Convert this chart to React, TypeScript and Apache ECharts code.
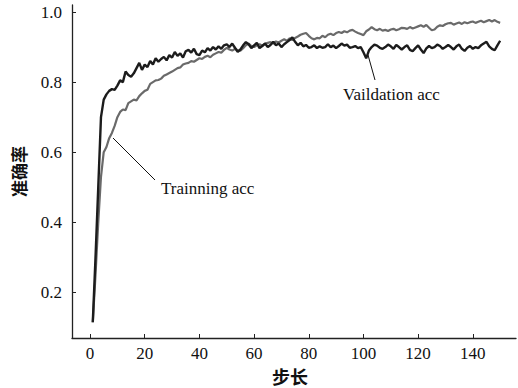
import React, { useEffect, useRef } from "react";
import * as echarts from "echarts";

const steps: number[] = [];
for (let i = 1; i <= 150; i++) steps.push(i);

const validationAcc = [
  0.115, 0.3, 0.5, 0.7, 0.75, 0.765, 0.775, 0.78, 0.778, 0.79,
  0.805, 0.8, 0.83, 0.82, 0.815, 0.825, 0.84, 0.855, 0.835, 0.85,
  0.843, 0.86, 0.85, 0.868, 0.858, 0.866, 0.872, 0.862, 0.877, 0.87,
  0.886, 0.875, 0.882, 0.87, 0.888, 0.892, 0.884, 0.895, 0.88, 0.877,
  0.89, 0.885, 0.897, 0.89, 0.9, 0.893, 0.902, 0.895, 0.905, 0.908,
  0.9, 0.91, 0.898, 0.886, 0.893, 0.905, 0.914, 0.908, 0.897, 0.905,
  0.912, 0.897, 0.903, 0.91, 0.9, 0.906, 0.915, 0.905, 0.91, 0.9,
  0.908, 0.914, 0.92, 0.928, 0.915, 0.905, 0.912, 0.902, 0.906, 0.898,
  0.9, 0.905, 0.897, 0.902, 0.898, 0.9, 0.908, 0.9, 0.904, 0.897,
  0.903, 0.91, 0.904, 0.907, 0.898, 0.9, 0.903, 0.897, 0.9, 0.885,
  0.868, 0.89, 0.9, 0.907, 0.904, 0.898, 0.895, 0.9, 0.907, 0.902,
  0.895, 0.906, 0.9, 0.893, 0.9, 0.905, 0.892, 0.888, 0.897, 0.905,
  0.893, 0.883, 0.896, 0.903, 0.897, 0.9, 0.907, 0.903, 0.895, 0.9,
  0.906, 0.9, 0.893, 0.902, 0.907, 0.895, 0.889, 0.898, 0.903, 0.895,
  0.9, 0.897, 0.905, 0.91, 0.915, 0.902, 0.895, 0.891, 0.905, 0.918,
];

const trainingAcc = [
  0.115, 0.25, 0.4, 0.53, 0.6, 0.615, 0.64, 0.655, 0.675, 0.7,
  0.715, 0.722, 0.72, 0.74, 0.745, 0.75, 0.748, 0.76, 0.768, 0.775,
  0.778, 0.795, 0.8, 0.805, 0.806, 0.81, 0.818, 0.822, 0.826, 0.83,
  0.835, 0.84, 0.842, 0.85, 0.853, 0.855, 0.86, 0.858, 0.863, 0.868,
  0.866, 0.872, 0.875, 0.871, 0.878, 0.882, 0.886, 0.884, 0.892, 0.898,
  0.893, 0.89, 0.895, 0.891, 0.89, 0.897, 0.905, 0.91, 0.903, 0.9,
  0.905, 0.908, 0.904, 0.91, 0.912, 0.914, 0.91, 0.916, 0.913, 0.918,
  0.922, 0.918, 0.925, 0.92, 0.926, 0.93, 0.935, 0.938, 0.94, 0.932,
  0.925, 0.922, 0.926, 0.925, 0.932, 0.928, 0.935, 0.938, 0.934, 0.94,
  0.943, 0.94, 0.945, 0.942, 0.947, 0.949, 0.944, 0.94, 0.937, 0.934,
  0.945, 0.95, 0.957, 0.951, 0.948, 0.952, 0.947, 0.949, 0.946, 0.95,
  0.952, 0.948, 0.951, 0.955, 0.954, 0.952, 0.957, 0.953, 0.956, 0.959,
  0.962, 0.958, 0.963, 0.955, 0.948, 0.95, 0.958, 0.962, 0.96, 0.965,
  0.968, 0.969, 0.964, 0.967, 0.97, 0.966, 0.971, 0.968, 0.971, 0.973,
  0.969, 0.972, 0.975, 0.971, 0.974, 0.977, 0.973, 0.977, 0.972, 0.969,
];

const xTicks = [0, 20, 40, 60, 80, 100, 120, 140];
const yTicks = [0.2, 0.4, 0.6, 0.8, 1.0];

const xName = "步长";
const yName = "准确率";
const trainLabel = "Trainning acc";
const valLabel = "Vaildation acc";

const serif = "Liberation Serif";
const cjk = "Noto Sans CJK SC";

export default function App() {
  const ref = useRef<HTMLDivElement>(null);
  useEffect(() => {
    if (!ref.current) return;
    const chart = echarts.init(ref.current, null, { renderer: "svg" });
    const toPairs = (arr: number[]) => arr.map((v, i) => [steps[i], v]);
    chart.setOption({
      animation: false,
      backgroundColor: "#fff",
      grid: { left: 72, top: 5, right: 2, bottom: 50, outerBoundsMode: "none", containLabel: false },
      xAxis: {
        type: "value",
        min: -6.6,
        max: 155.8,
        name: xName,
        nameLocation: "middle",
        nameGap: 26,
        nameTextStyle: { fontFamily: cjk, fontSize: 18, fontWeight: "bold", color: "#111", padding: [0, 8, 0, 0] },
        axisLine: { show: true, onZero: false, lineStyle: { color: "#222", width: 1.3 } },
        axisTick: { show: true, inside: true, length: 4, customValues: xTicks, lineStyle: { color: "#222" } },
        axisLabel: { customValues: xTicks, fontFamily: serif, fontSize: 17, color: "#111", margin: 7 },
        splitLine: { show: false },
      },
      yAxis: {
        type: "value",
        min: 0.07,
        max: 1.02,
        name: yName,
        nameLocation: "middle",
        nameGap: 45,
        nameTextStyle: { fontFamily: cjk, fontSize: 17, fontWeight: "bold", color: "#111" },
        axisLine: { show: true, onZero: false, lineStyle: { color: "#222", width: 1.3 } },
        axisTick: { show: true, inside: true, length: 4, customValues: yTicks, lineStyle: { color: "#222" } },
        axisLabel: {
          customValues: yTicks,
          fontFamily: serif,
          fontSize: 17,
          color: "#111",
          margin: 10,
          formatter: (v: number) => v.toFixed(1),
        },
        splitLine: { show: false },
      },
      series: [
        {
          name: "Training",
          type: "line",
          data: toPairs(trainingAcc),
          showSymbol: false,
          lineStyle: { color: "#6a6a6a", width: 2.2 },
          z: 2,
        },
        {
          name: "Validation",
          type: "line",
          data: toPairs(validationAcc),
          showSymbol: false,
          lineStyle: { color: "#1c1c1c", width: 2.4 },
          z: 3,
        },
      ],
      graphic: [
        { type: "line", shape: { x1: 113, y1: 138, x2: 155, y2: 180 }, style: { stroke: "#111", lineWidth: 1 } },
        {
          type: "text",
          x: 161,
          y: 188,
          style: { text: trainLabel, fontFamily: serif, fontSize: 17, fill: "#111", verticalAlign: "middle" },
        },
        { type: "line", shape: { x1: 368, y1: 55, x2: 375, y2: 80 }, style: { stroke: "#111", lineWidth: 1 } },
        {
          type: "text",
          x: 343,
          y: 94,
          style: { text: valLabel, fontFamily: serif, fontSize: 17, fill: "#111", verticalAlign: "middle" },
        },
      ],
    });
    return () => chart.dispose();
  }, []);
  return (
    <div
      ref={ref}
      style={{ position: "absolute", left: 0, top: 0, width: 518, height: 388 }}
    />
  );
}
